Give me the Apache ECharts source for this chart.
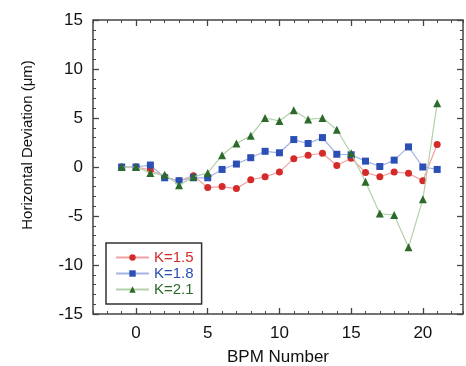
<!DOCTYPE html>
<html>
<head>
<meta charset="utf-8">
<script src="https://cdn.jsdelivr.net/npm/echarts@6/dist/echarts.min.js"></script>
<style>html,body{margin:0;padding:0;background:#fff}#c{width:466px;height:366px}</style>
</head>
<body>
<div id="c"></div>
<script>
var bpm = [-1,0,1,2,3,4,5,6,7,8,9,10,11,12,13,14,15,16,17,18,19,20,21];
var k15 = [0,0,-0.3,-1.0,-1.4,-0.9,-2.1,-2.0,-2.2,-1.3,-1.0,-0.5,0.85,1.2,1.4,0.15,0.9,-0.55,-1.0,-0.5,-0.65,-1.4,2.3];
var k18 = [0,0,0.2,-1.1,-1.4,-1.1,-1.1,-0.25,0.3,0.95,1.6,1.45,2.8,2.4,3.0,1.3,1.25,0.6,0.05,0.7,2.05,0,-0.25];
var k21 = [0,0,-0.6,-0.8,-1.85,-1.0,-0.6,1.2,2.4,3.2,5.0,4.7,5.8,4.85,5.0,3.8,1.4,-1.5,-4.75,-4.9,-8.2,-3.3,6.5];
var seriesNames = ['K=1.5','K=1.8','K=2.1'];
var xMajorTicks = [0,5,10,15,20];
var xTitle = 'BPM Number';
var yTitle = 'Horizontal Deviation (\u03bcm)';

var FONT = '"Liberation Sans", Arial, Helvetica, sans-serif';
var colors = ['#d42a2a','#2a4fb5','#2c6a2a'];
var lineColors = ['#f0a0a0','#a4b2e6','#b4d0ac'];
var symbols = ['circle','rect','triangle'];

function pairs(v){ return bpm.map(function(x,i){ return [x, v[i]]; }); }
var values = [k15,k18,k21];

var frameColor = '#444';
var noLine = {show:false, onZero:false};
var chart = echarts.init(document.getElementById('c'), null, {renderer:'canvas'});
chart.setOption({
  animation:false,
  backgroundColor:'#fff',
  textStyle:{fontFamily:FONT},
  grid:{left:93,right:3,top:20,bottom:52,containLabel:false,outerBoundsMode:'none',
        show:true,borderColor:frameColor,borderWidth:1.5,backgroundColor:'transparent'},
  legend:{
    orient:'vertical', left:106, top:243,
    padding:[7,8,7,9],
    borderColor:'#333', borderWidth:1.5,
    itemWidth:33, itemHeight:8, itemGap:1,
    textStyle:{fontSize:15, fontFamily:FONT, lineHeight:14},
    data: seriesNames.map(function(n,i){ return {name:n, textStyle:{color:colors[i]}}; })
  },
  xAxis:[
    {type:'value', position:'bottom', min:-3, max:22.8,
     axisLine:noLine, splitLine:{show:false},
     axisTick:{inside:true, length:6, customValues:xMajorTicks, lineStyle:{color:frameColor,width:1.3}},
     axisLabel:{customValues:xMajorTicks, margin:11, fontSize:17, color:'#111', fontFamily:FONT},
     name:xTitle, nameLocation:'middle', nameGap:35,
     nameTextStyle:{fontSize:17, color:'#111', fontFamily:FONT}},
    {type:'value', position:'bottom', min:-3, max:22.8, interval:1,
     axisLine:noLine, splitLine:{show:false}, axisLabel:{show:false},
     axisTick:{inside:true, length:3, lineStyle:{color:frameColor,width:1}}},
    {type:'value', position:'top', min:-3, max:22.8,
     axisLine:noLine, splitLine:{show:false}, axisLabel:{show:false},
     axisTick:{inside:true, length:6, customValues:xMajorTicks, lineStyle:{color:frameColor,width:1.3}}},
    {type:'value', position:'top', min:-3, max:22.8, interval:1,
     axisLine:noLine, splitLine:{show:false}, axisLabel:{show:false},
     axisTick:{inside:true, length:3, lineStyle:{color:frameColor,width:1}}}
  ],
  yAxis:[
    {type:'value', position:'left', min:-15, max:15, interval:5,
     axisLine:noLine, splitLine:{show:false},
     axisTick:{inside:true, length:6, lineStyle:{color:frameColor,width:1.3}},
     minorTick:{show:true, splitNumber:5, length:3, lineStyle:{color:frameColor,width:1}},
     axisLabel:{margin:10, fontSize:17, color:'#111', fontFamily:FONT},
     name:yTitle, nameLocation:'middle', nameGap:58,
     nameTextStyle:{fontSize:15, color:'#111', fontFamily:FONT, padding:[0,0,0,44]}},
    {type:'value', position:'right', min:-15, max:15, interval:5,
     axisLine:noLine, splitLine:{show:false}, axisLabel:{show:false},
     axisTick:{inside:true, length:6, lineStyle:{color:frameColor,width:1.3}},
     minorTick:{show:true, splitNumber:5, length:3, lineStyle:{color:frameColor,width:1}}}
  ],
  series: seriesNames.map(function(n,i){
    return {
      name:n, type:'line', xAxisIndex:0, yAxisIndex:0,
      data:pairs(values[i]),
      symbol:symbols[i], symbolSize: i===2 ? 8 : 7,
      showSymbol:true,
      itemStyle:{color:colors[i]},
      lineStyle:{color:lineColors[i], width:1.2},
      z: 2+i
    };
  })
});
</script>
</body>
</html>
